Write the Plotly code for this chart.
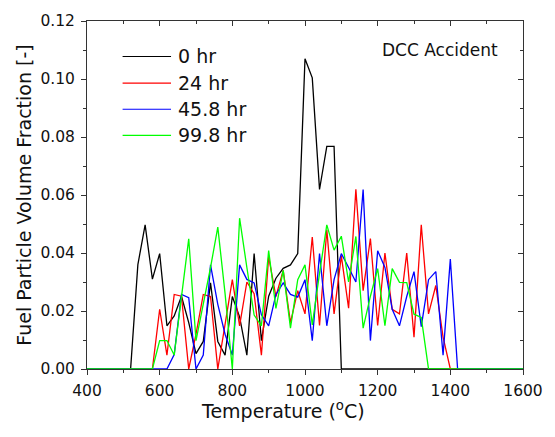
import plotly.graph_objects as go

# Fuel particle volume fraction vs. temperature, DCC accident
temp_0hr = [400, 520, 540, 560, 580, 600, 620, 640, 660, 680, 700, 720, 740, 760, 780, 800,
            820, 840, 860, 880, 900, 920, 940, 960, 980, 1000, 1020, 1040, 1060, 1080, 1100, 1600]
frac_0hr = [0, 0, 0.036, 0.0497, 0.031, 0.0398, 0.0149, 0.0183, 0.0251, 0.016, 0.0053, 0.0095,
            0.0297, 0.0095, 0.0048, 0.025, 0.018, 0.0048, 0.0398, 0.0098, 0.0251, 0.0313,
            0.0347, 0.0359, 0.0398, 0.107, 0.1004, 0.0619, 0.0768, 0.0768, 0, 0]

temp_24hr = [400, 580, 600, 620, 640, 660, 680, 700, 720, 740, 760, 780, 800, 820, 840, 860,
             880, 900, 920, 940, 960, 980, 1000, 1020, 1040, 1060, 1080, 1100, 1120, 1140,
             1160, 1180, 1200, 1220, 1240, 1260, 1280, 1300, 1320, 1340, 1360, 1380, 1400, 1600]
frac_24hr = [0, 0, 0.0206, 0.0048, 0.0257, 0.0251, 0, 0.012, 0.0257, 0.025, 0, 0.015, 0.0308,
             0.0149, 0.030, 0.026, 0.0048, 0.0387, 0.025, 0.034, 0.016, 0.027, 0.019, 0.0455,
             0.015, 0.048, 0.019, 0.039, 0.021, 0.062, 0.027, 0.045, 0.015, 0.040, 0.0206,
             0.019, 0.040, 0.011, 0.0497, 0.019, 0.0288, 0.011, 0, 0]

temp_45hr = [400, 620, 640, 660, 680, 700, 720, 740, 760, 780, 800, 820, 840, 860, 880, 900,
             920, 940, 960, 980, 1000, 1020, 1040, 1060, 1080, 1100, 1120, 1140, 1160, 1180,
             1200, 1220, 1240, 1260, 1280, 1300, 1320, 1340, 1360, 1380, 1400, 1420, 1600]
frac_45hr = [0, 0, 0.005, 0.0257, 0.0246, 0, 0.0048, 0.0359, 0.0223, 0.012, 0.0048, 0.0359,
             0.0309, 0.0297, 0.0187, 0.0149, 0.0257, 0.0297, 0.0257, 0.0248, 0.0308, 0.0098,
             0.0398, 0.0149, 0.0308, 0.0398, 0.035, 0.030, 0.0619, 0.0098, 0.0408, 0.035,
             0.0206, 0.0149, 0.025, 0.0336, 0.0146, 0.0308, 0.0336, 0.0048, 0.0379, 0, 0]

temp_99hr = [400, 580, 600, 620, 640, 660, 680, 700, 720, 740, 760, 780, 800, 820, 840, 860,
             880, 900, 920, 940, 960, 980, 1000, 1020, 1040, 1060, 1080, 1100, 1120, 1140,
             1160, 1180, 1200, 1220, 1240, 1260, 1280, 1300, 1320, 1340, 1600]
frac_99hr = [0, 0, 0.0098, 0.0098, 0.0048, 0.025, 0.0449, 0.0098, 0.022, 0.035, 0.0489, 0.026,
             0, 0.052, 0.035, 0.0186, 0.0149, 0.0408, 0.0209, 0.034, 0.0141, 0.0308, 0.0359,
             0.0152, 0.033, 0.0497, 0.041, 0.0458, 0.030, 0.0457, 0.0141, 0.0251, 0.0346,
             0.0149, 0.0346, 0.0299, 0.0298, 0.0189, 0.0178, 0, 0]

series_names = ["0 hr", "24 hr", "45.8 hr", "99.8 hr"]
series_temps = [temp_0hr, temp_24hr, temp_45hr, temp_99hr]
series_fracs = [frac_0hr, frac_24hr, frac_45hr, frac_99hr]
series_colors = ["#000000", "#FF0000", "#0000FF", "#00FF00"]

W, H = 555, 437
M_L, M_R, M_T, M_B = 87, 27, 16, 68
plot_w = W - M_L - M_R
plot_h = H - M_T - M_B

def px_to_paper_x(px):
    return (px - M_L) / plot_w

def px_to_paper_y(py):
    return (H - M_B - py) / plot_h

fig = go.Figure()
for name, t, v, color in zip(series_names, series_temps, series_fracs, series_colors):
    fig.add_trace(go.Scatter(x=t, y=v, mode="lines", name=name, showlegend=False,
                             line=dict(color=color, width=1.3)))

axis_color = "#333333"
tick_font = "DejaVu Sans, Verdana, sans-serif"

fig.update_layout(
    width=W, height=H,
    margin=dict(l=M_L, r=M_R, t=M_T, b=M_B),
    paper_bgcolor="white", plot_bgcolor="white",
    font=dict(family=tick_font, color="#111111"),
    showlegend=False,
    xaxis=dict(range=[400, 1600], dtick=200, tick0=400,
               showline=True, linecolor=axis_color, linewidth=1,
               ticks="outside", ticklen=5, tickcolor=axis_color, tickwidth=1,
               minor=dict(ticks="outside", ticklen=3, dtick=100, tickcolor=axis_color),
               showgrid=False, zeroline=False, ticklabelstandoff=2,
               tickfont=dict(size=15.5)),
    yaxis=dict(range=[0, 0.12], dtick=0.02, tick0=0, tickformat=".2f",
               showline=True, linecolor=axis_color, linewidth=1,
               ticks="outside", ticklen=5, tickcolor=axis_color, tickwidth=1,
               minor=dict(ticks="outside", ticklen=3, dtick=0.01, tickcolor=axis_color),
               showgrid=False, zeroline=False, ticklabelstandoff=3,
               tickfont=dict(size=15.5),
               title=dict(text="Fuel Particle Volume Fraction [-]",
                          font=dict(size=19), standoff=3)),
    # frame on top and right with inward ticks
    xaxis2=dict(overlaying="x", matches="x", side="top", range=[400, 1600],
                dtick=200, tick0=400, showline=True, linecolor=axis_color, linewidth=1,
                ticks="inside", ticklen=5, tickcolor=axis_color,
                minor=dict(ticks="inside", ticklen=3, dtick=100, tickcolor=axis_color),
                showticklabels=False, showgrid=False, zeroline=False),
    yaxis2=dict(overlaying="y", matches="y", side="right", range=[0, 0.12],
                dtick=0.02, tick0=0, showline=True, linecolor=axis_color, linewidth=1,
                ticks="inside", ticklen=5, tickcolor=axis_color,
                minor=dict(ticks="inside", ticklen=3, dtick=0.01, tickcolor=axis_color),
                showticklabels=False, showgrid=False, zeroline=False),
)

# invisible helper trace so the mirrored axes are drawn
fig.add_trace(go.Scatter(x=[400], y=[0], xaxis="x2", yaxis="y2", mode="markers",
                         marker=dict(opacity=0), showlegend=False, hoverinfo="skip"))

# x-axis title
fig.add_annotation(text="Temperature (<sup>o</sup>C)", xref="paper", yref="paper",
                   x=px_to_paper_x(285), y=px_to_paper_y(411), xanchor="center",
                   yanchor="middle", showarrow=False,
                   font=dict(size=19, family=tick_font, color="#111111"))

# legend: line samples with labels
leg_x0, leg_x1, leg_text_x = 123, 172, 177
leg_rows = [52, 79, 105.5, 132]
for name, color, row in zip(series_names, series_colors, leg_rows):
    fig.add_shape(type="line", xref="paper", yref="paper",
                  x0=px_to_paper_x(leg_x0), x1=px_to_paper_x(leg_x1),
                  y0=px_to_paper_y(row), y1=px_to_paper_y(row),
                  line=dict(color=color, width=1.2))
    fig.add_annotation(text=name, xref="paper", yref="paper",
                       x=px_to_paper_x(leg_text_x), y=px_to_paper_y(row),
                       xanchor="left", yanchor="middle", showarrow=False,
                       font=dict(size=19, family=tick_font, color="#111111"))

fig.add_annotation(text="DCC Accident", xref="paper", yref="paper",
                   x=px_to_paper_x(383), y=px_to_paper_y(45), xanchor="left",
                   yanchor="middle", showarrow=False,
                   font=dict(size=17, family=tick_font, color="#111111"))

fig.write_html("out.html")
